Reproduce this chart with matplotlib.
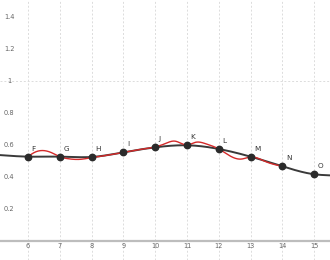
import numpy as np
import matplotlib
matplotlib.use("Agg")
import matplotlib.pyplot as plt

# Data
point_labels = ["F", "G", "H", "I", "J", "K", "L", "M", "N", "O"]
point_x = [6, 7, 8, 9, 10, 11, 12, 13, 14, 15]
point_y = [0.527, 0.527, 0.525, 0.554, 0.585, 0.598, 0.575, 0.527, 0.467, 0.417]

# black curve: passes through the points, extended slightly at both ends
black_x = [5.1, 6, 7, 8, 9, 10, 11, 12, 13, 14, 15, 15.5]
black_y = [0.537, 0.527, 0.527, 0.525, 0.554, 0.585, 0.598, 0.575, 0.527, 0.467, 0.417, 0.410]

# red curve
red_x = [6.0, 6.2, 6.48, 6.75, 7.0, 7.3, 7.63, 8.0, 8.5, 9.0, 9.5, 10.0, 10.3, 10.62,
         11.0, 11.28, 11.6, 12.0, 12.35, 12.72, 13.0, 13.5, 14.0]
red_y = [0.527, 0.553, 0.565, 0.551, 0.527, 0.513, 0.510, 0.521, 0.536, 0.554, 0.571, 0.588, 0.607, 0.624,
         0.600, 0.617, 0.607, 0.575, 0.532, 0.512, 0.525, 0.494, 0.467]

y_tick_values = [0.2, 0.4, 0.6, 0.8, 1.0, 1.2, 1.4]
y_tick_labels = ["0.2", "0.4", "0.6", "0.8", "1", "1.2", "1.4"]
x_tick_values = [6, 7, 8, 9, 10, 11, 12, 13, 14, 15]


def natural_spline(xk, yk, xs):
    xk = np.asarray(xk, float); yk = np.asarray(yk, float)
    n = len(xk)
    h = np.diff(xk)
    A = np.zeros((n, n)); r = np.zeros(n)
    A[0, 0] = 1; A[-1, -1] = 1
    for i in range(1, n - 1):
        A[i, i - 1] = h[i - 1]
        A[i, i] = 2 * (h[i - 1] + h[i])
        A[i, i + 1] = h[i]
        r[i] = 3 * ((yk[i + 1] - yk[i]) / h[i] - (yk[i] - yk[i - 1]) / h[i - 1])
    c = np.linalg.solve(A, r)
    b = (yk[1:] - yk[:-1]) / h - h * (2 * c[:-1] + c[1:]) / 3
    d = (c[1:] - c[:-1]) / (3 * h)
    idx = np.clip(np.searchsorted(xk, xs) - 1, 0, n - 2)
    t = xs - xk[idx]
    return yk[idx] + b[idx] * t + c[idx] * t ** 2 + d[idx] * t ** 3


fig = plt.figure(figsize=(3.3, 2.6), dpi=100)
ax = fig.add_axes([0, 0, 1, 1])
ax.set_xlim(5.12, 15.5)
ax.set_ylim(-0.119, 1.506)
ax.axis("off")

# grid
for xv in x_tick_values:
    ax.axvline(xv, color="#dcdcdc", lw=0.7, ls=(0, (2, 2)), zorder=0)
ax.axhline(1.0, color="#dcdcdc", lw=0.7, ls=(0, (2, 2)), zorder=0)
ax.axhline(0.0, color="#bdbdbd", lw=1.6, zorder=1)

# tick labels
for xv in x_tick_values:
    ax.text(xv, -0.03, str(xv), ha="center", va="center", fontsize=4.8, color="#666666")
for yv, lab in zip(y_tick_values, y_tick_labels):
    ax.text(5.12 + 0.29, yv, lab, ha="center", va="center", fontsize=4.8, color="#666666")

# black curve
xs = np.linspace(black_x[0], black_x[-1], 600)
ax.plot(xs, natural_spline(black_x, black_y, xs), color="#3a3a3a", lw=1.4, zorder=2,
        solid_capstyle="round")

# red curve
xr = np.linspace(red_x[0], red_x[-1], 600)
ax.plot(xr, natural_spline(red_x, red_y, xr), color="#d42a2a", lw=1.0, zorder=3)

# points and labels
ax.plot(point_x, point_y, "o", color="#2b2b2b", ms=4.6, zorder=4)
for lab, xv, yv in zip(point_labels, point_x, point_y):
    ax.annotate(lab, (xv, yv), xytext=(2.5, 3.5), textcoords="offset points",
                fontsize=5.2, color="#333333", ha="left", va="bottom")

fig.savefig("out.png", dpi=100)
